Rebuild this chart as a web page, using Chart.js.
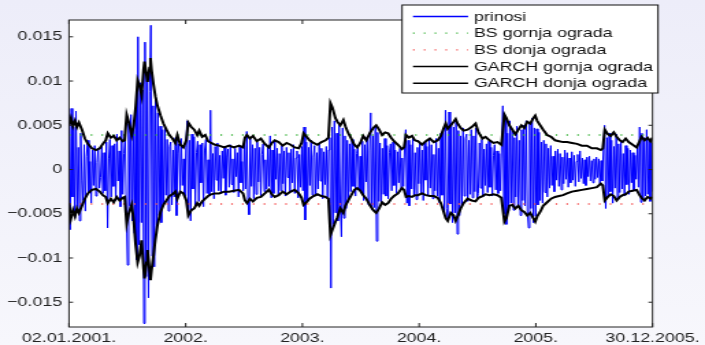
<!DOCTYPE html>
<html>
<head>
<meta charset="utf-8">
<script src="https://cdn.jsdelivr.net/npm/chart.js@4.4.1/dist/chart.umd.min.js"></script>
<style>
  html, body { margin: 0; padding: 0; width: 705px; height: 345px; overflow: hidden;
    background: linear-gradient(#ededf9, #f7f7fc); }
  /* the original figure was stretched sideways, so draw narrow and widen */
  #wrap { width: 515px; height: 345px; transform: scaleX(1.3689); transform-origin: 0 0; }
  canvas { display: block; }
</style>
</head>
<body>
<div id="wrap"><canvas id="chart" width="515" height="345"></canvas></div>
<script>
// axis ticks (x in years from 02.01.2001.)
const xTickPos = [0, 1, 2, 3, 4, 5];
const xTickLabels = ['02.01.2001.', '2002.', '2003.', '2004.', '2005.', '30.12.2005.'];
const yTickPos = [-0.015, -0.01, -0.005, 0, 0.005, 0.01, 0.015];
const yTickLabels = ['\u22120.015', '\u22120.01', '\u22120.005', '0', '0.005', '0.01', '0.015'];

// daily returns (prinosi), evenly spaced over the 5 years
const prinosi = [
  0.0062, -0.0068, 0.0069, -0.0031, 0.0048, -0.0055, 0.0066, -0.0042, 0.0025, -0.0058,
  0.0041, -0.0012, -0.0035, 0.0028, -0.0047, 0.0015, 0.0033, -0.0026, 0.0009, -0.0038,
  0.0022, -0.0018, 0.0027, -0.0030, 0.0008, 0.0024, -0.0021, -0.0009, 0.0026, -0.0027,
  0.0019, -0.0024, 0.0031, -0.0066, 0.0012, 0.0034, -0.0031, 0.0027, -0.0019, 0.0029,
  -0.0035, 0.0040, -0.0013, 0.0021, -0.0042, 0.0044, -0.0028, 0.0018, 0.0038, -0.0046,
  -0.0108, 0.0052, -0.0041, 0.0062, -0.0058, 0.0046, -0.0072, 0.0070, -0.0102, 0.0150,
  -0.0085, 0.0098, -0.0060, 0.0090, -0.0174, 0.0144, -0.0121, 0.0105, -0.0145, 0.0088,
  0.0163, -0.0098, 0.0072, -0.0110, 0.0081, -0.0068, 0.0064, -0.0052, 0.0049, -0.0060,
  0.0045, -0.0038, 0.0050, -0.0029, 0.0034, -0.0047, 0.0026, 0.0031, -0.0040, 0.0022,
  -0.0031, 0.0036, -0.0052, 0.0018, 0.0029, -0.0024, 0.0035, -0.0018, 0.0012, -0.0030,
  0.0027, 0.0055, -0.0048, 0.0033, -0.0058, 0.0040, -0.0022, 0.0037, -0.0041, 0.0019,
  0.0032, -0.0036, 0.0028, -0.0015, 0.0030, -0.0042, 0.0022, 0.0034, -0.0027, 0.0011,
  -0.0030, 0.0067, -0.0025, 0.0018, -0.0033, 0.0026, -0.0012, 0.0030, -0.0024, 0.0016,
  -0.0027, 0.0021, -0.0010, 0.0025, -0.0029, 0.0014, 0.0023, -0.0020, 0.0028, -0.0017,
  0.0012, -0.0026, 0.0024, -0.0008, 0.0019, -0.0031, 0.0026, -0.0015, 0.0009, -0.0024,
  0.0030, -0.0022, 0.0043, -0.0036, -0.0051, 0.0035, -0.0019, 0.0028, -0.0033, 0.0024,
  -0.0028, 0.0031, -0.0014, 0.0025, -0.0030, 0.0017, 0.0029, -0.0025, 0.0011, -0.0022,
  0.0026, -0.0019, 0.0038, -0.0032, 0.0022, -0.0027, 0.0033, -0.0011, 0.0024, -0.0029,
  0.0018, -0.0024, 0.0027, -0.0016, 0.0021, -0.0030, 0.0025, -0.0009, 0.0019, -0.0026,
  0.0023, -0.0015, 0.0028, -0.0027, 0.0013, 0.0021, -0.0032, 0.0017, -0.0020, 0.0026,
  -0.0024, 0.0048, -0.0057, 0.0031, -0.0036, 0.0025, -0.0018, 0.0033, -0.0029, 0.0014,
  0.0027, -0.0030, 0.0019, -0.0022, 0.0030, -0.0013, 0.0024, -0.0033, 0.0020, -0.0017,
  0.0026, -0.0031, 0.0022, 0.0036, -0.0134, 0.0048, -0.0062, 0.0055, -0.0049, 0.0041,
  -0.0058, 0.0052, -0.0041, -0.0076, 0.0047, -0.0055, 0.0038, -0.0044, 0.0033, -0.0037,
  0.0029, -0.0025, 0.0034, -0.0019, 0.0023, -0.0030, 0.0018, 0.0027, -0.0022, 0.0015,
  -0.0026, 0.0032, -0.0035, 0.0028, -0.0014, 0.0037, -0.0040, 0.0021, 0.0064, -0.0045,
  0.0038, -0.0043, 0.0049, -0.0081, 0.0042, -0.0036, 0.0030, -0.0039, 0.0024, -0.0028,
  0.0035, -0.0030, 0.0027, -0.0033, 0.0019, 0.0029, -0.0024, 0.0031, -0.0018, 0.0022,
  -0.0027, 0.0020, -0.0015, 0.0024, -0.0022, 0.0013, -0.0019, 0.0026, 0.0045, -0.0038,
  0.0033, -0.0041, 0.0028, -0.0022, 0.0036, -0.0030, 0.0019, -0.0034, 0.0025, -0.0016,
  0.0030, -0.0027, 0.0022, -0.0035, 0.0031, -0.0012, 0.0026, -0.0029, 0.0034, -0.0021,
  0.0028, -0.0033, 0.0017, -0.0024, 0.0035, -0.0030, 0.0024, -0.0038, 0.0041, -0.0029,
  0.0046, -0.0051, 0.0067, -0.0044, -0.0058, 0.0065, -0.0039, 0.0052, -0.0060, 0.0048,
  -0.0049, 0.0056, -0.0073, 0.0044, -0.0052, 0.0038, -0.0041, 0.0047, -0.0030, 0.0035,
  0.0040, -0.0036, 0.0033, -0.0028, 0.0045, -0.0032, 0.0038, -0.0025, 0.0047, -0.0034,
  -0.0027, 0.0030, -0.0021, 0.0034, -0.0031, 0.0023, -0.0018, 0.0029, -0.0026, 0.0032,
  -0.0020, 0.0025, -0.0030, 0.0016, 0.0028, -0.0023, 0.0021, -0.0027, 0.0018, -0.0024,
  0.0030, 0.0072, -0.0050, 0.0058, -0.0062, 0.0041, -0.0047, 0.0055, -0.0038, 0.0044,
  -0.0046, 0.0036, -0.0031, 0.0049, -0.0042, 0.0033, -0.0052, 0.0045, -0.0035, 0.0050,
  -0.0041, 0.0055, -0.0048, -0.0066, 0.0052, -0.0044, 0.0058, -0.0060, 0.0047, -0.0053,
  0.0046, -0.0040, 0.0042, -0.0035, 0.0031, -0.0038, 0.0033, -0.0026, 0.0029, -0.0031,
  0.0024, -0.0021, 0.0027, -0.0018, 0.0015, -0.0025, 0.0021, -0.0012, 0.0023, -0.0019,
  0.0018, -0.0023, 0.0014, -0.0016, 0.0022, -0.0011, 0.0019, -0.0020, 0.0013, -0.0015,
  0.0020, -0.0012, 0.0016, -0.0019, 0.0009, 0.0017, -0.0014, 0.0021, -0.0010, 0.0013,
  -0.0016, 0.0011, -0.0018, 0.0014, -0.0008, 0.0015, -0.0013, 0.0010, -0.0015, 0.0012,
  -0.0011, 0.0014, -0.0009, 0.0012, -0.0016, 0.0010, -0.0013, 0.0024, 0.0050, -0.0044,
  0.0036, -0.0031, 0.0041, -0.0025, 0.0033, -0.0038, 0.0026, -0.0021, 0.0040, -0.0034,
  0.0029, -0.0026, 0.0033, -0.0022, 0.0018, -0.0030, 0.0027, -0.0017, 0.0024, -0.0028,
  0.0022, -0.0015, 0.0019, -0.0023, 0.0016, -0.0011, 0.0025, -0.0020, 0.0048, -0.0037,
  0.0041, -0.0033, 0.0036, -0.0030, 0.0045, -0.0028, 0.0034, -0.0036, 0.0030, -0.0025
];
const prinosiEnd = 5;

// Black-Scholes bands (constant)
const bsGornja = 0.0039;
const bsDonja = -0.0039;

// GARCH bands, sampled at these times (years)
const garchT = [
  0.000, 0.017, 0.034, 0.051, 0.068, 0.085, 0.111, 0.136, 0.162, 0.196,
  0.230, 0.264, 0.290, 0.315, 0.332, 0.358, 0.383, 0.409, 0.434, 0.460,
  0.477, 0.494, 0.511, 0.537, 0.554, 0.571, 0.588, 0.605, 0.622, 0.639,
  0.647, 0.664, 0.673, 0.690, 0.698, 0.707, 0.724, 0.741, 0.758, 0.784,
  0.809, 0.835, 0.860, 0.886, 0.911, 0.928, 0.954, 0.980, 1.005, 1.022,
  1.048, 1.073, 1.099, 1.116, 1.141, 1.167, 1.192, 1.218, 1.252, 1.286,
  1.329, 1.371, 1.414, 1.457, 1.491, 1.508, 1.525, 1.550, 1.576, 1.610,
  1.644, 1.678, 1.712, 1.738, 1.763, 1.797, 1.831, 1.865, 1.899, 1.934,
  1.968, 1.993, 2.010, 2.036, 2.061, 2.095, 2.129, 2.163, 2.198, 2.223,
  2.240, 2.257, 2.283, 2.300, 2.325, 2.351, 2.368, 2.393, 2.419, 2.445,
  2.470, 2.496, 2.521, 2.547, 2.581, 2.607, 2.632, 2.658, 2.683, 2.709,
  2.734, 2.760, 2.785, 2.819, 2.853, 2.871, 2.888, 2.913, 2.939, 2.964,
  2.990, 3.024, 3.058, 3.092, 3.126, 3.160, 3.186, 3.211, 3.228, 3.245,
  3.271, 3.296, 3.313, 3.330, 3.356, 3.381, 3.415, 3.450, 3.484, 3.509,
  3.543, 3.569, 3.603, 3.637, 3.671, 3.705, 3.731, 3.748, 3.773, 3.799,
  3.824, 3.850, 3.876, 3.901, 3.927, 3.952, 3.978, 3.995, 4.012, 4.037,
  4.063, 4.097, 4.131, 4.165, 4.199, 4.233, 4.268, 4.310, 4.353, 4.395,
  4.438, 4.480, 4.523, 4.557, 4.574, 4.591, 4.617, 4.642, 4.668, 4.693,
  4.719, 4.744, 4.770, 4.796, 4.830, 4.864, 4.889, 4.906, 4.932, 4.957,
  4.983, 5.000
];
const garchGornja = [
  0.0050, 0.0058, 0.0049, 0.0055, 0.0048, 0.0053, 0.0045, 0.0035, 0.0029, 0.0024,
  0.0022, 0.0024, 0.0029, 0.0033, 0.0041, 0.0036, 0.0038, 0.0033, 0.0036, 0.0032,
  0.0033, 0.0062, 0.0054, 0.0039, 0.0050, 0.0070, 0.0101, 0.0095, 0.0084, 0.0113,
  0.0122, 0.0107, 0.0099, 0.0115, 0.0126, 0.0113, 0.0096, 0.0082, 0.0072, 0.0061,
  0.0052, 0.0045, 0.0039, 0.0035, 0.0030, 0.0039, 0.0028, 0.0025, 0.0033, 0.0053,
  0.0048, 0.0045, 0.0039, 0.0044, 0.0037, 0.0039, 0.0032, 0.0030, 0.0028, 0.0027,
  0.0025, 0.0027, 0.0025, 0.0027, 0.0025, 0.0036, 0.0039, 0.0035, 0.0038, 0.0032,
  0.0035, 0.0029, 0.0025, 0.0030, 0.0033, 0.0031, 0.0027, 0.0030, 0.0028, 0.0025,
  0.0024, 0.0030, 0.0041, 0.0037, 0.0033, 0.0030, 0.0028, 0.0031, 0.0033, 0.0036,
  0.0075, 0.0070, 0.0058, 0.0054, 0.0050, 0.0056, 0.0049, 0.0041, 0.0035, 0.0028,
  0.0025, 0.0030, 0.0038, 0.0033, 0.0042, 0.0047, 0.0050, 0.0045, 0.0039, 0.0042,
  0.0041, 0.0036, 0.0032, 0.0028, 0.0023, 0.0025, 0.0039, 0.0036, 0.0038, 0.0033,
  0.0032, 0.0028, 0.0032, 0.0035, 0.0031, 0.0033, 0.0038, 0.0047, 0.0052, 0.0046,
  0.0050, 0.0054, 0.0057, 0.0052, 0.0047, 0.0044, 0.0045, 0.0048, 0.0052, 0.0042,
  0.0035, 0.0037, 0.0033, 0.0030, 0.0031, 0.0028, 0.0062, 0.0058, 0.0050, 0.0045,
  0.0040, 0.0045, 0.0050, 0.0047, 0.0054, 0.0052, 0.0058, 0.0061, 0.0055, 0.0050,
  0.0045, 0.0039, 0.0037, 0.0033, 0.0032, 0.0031, 0.0031, 0.0030, 0.0029, 0.0027,
  0.0027, 0.0024, 0.0024, 0.0022, 0.0024, 0.0045, 0.0040, 0.0038, 0.0042, 0.0037,
  0.0033, 0.0031, 0.0035, 0.0031, 0.0028, 0.0025, 0.0032, 0.0037, 0.0033, 0.0036,
  0.0032, 0.0036
];
const garchDonja = [
  -0.0038, -0.0055, -0.0046, -0.0053, -0.0044, -0.0049, -0.0041, -0.0033, -0.0027, -0.0023,
  -0.0022, -0.0025, -0.0029, -0.0031, -0.0038, -0.0033, -0.0037, -0.0031, -0.0035, -0.0032,
  -0.0031, -0.0061, -0.0050, -0.0040, -0.0057, -0.0085, -0.0105, -0.0097, -0.0080, -0.0112,
  -0.0123, -0.0105, -0.0091, -0.0114, -0.0125, -0.0114, -0.0097, -0.0078, -0.0063, -0.0048,
  -0.0040, -0.0035, -0.0030, -0.0028, -0.0025, -0.0033, -0.0025, -0.0027, -0.0035, -0.0052,
  -0.0046, -0.0044, -0.0038, -0.0041, -0.0036, -0.0033, -0.0030, -0.0028, -0.0027, -0.0027,
  -0.0025, -0.0025, -0.0024, -0.0023, -0.0027, -0.0035, -0.0038, -0.0033, -0.0036, -0.0032,
  -0.0031, -0.0027, -0.0023, -0.0028, -0.0031, -0.0029, -0.0025, -0.0028, -0.0025, -0.0023,
  -0.0027, -0.0032, -0.0040, -0.0037, -0.0033, -0.0030, -0.0028, -0.0030, -0.0031, -0.0033,
  -0.0074, -0.0068, -0.0059, -0.0054, -0.0044, -0.0049, -0.0041, -0.0035, -0.0029, -0.0023,
  -0.0021, -0.0024, -0.0029, -0.0033, -0.0041, -0.0046, -0.0049, -0.0044, -0.0037, -0.0040,
  -0.0038, -0.0033, -0.0030, -0.0027, -0.0021, -0.0023, -0.0031, -0.0030, -0.0031, -0.0029,
  -0.0029, -0.0027, -0.0029, -0.0030, -0.0030, -0.0032, -0.0038, -0.0048, -0.0055, -0.0058,
  -0.0049, -0.0052, -0.0058, -0.0053, -0.0044, -0.0038, -0.0033, -0.0035, -0.0036, -0.0032,
  -0.0030, -0.0028, -0.0029, -0.0028, -0.0029, -0.0032, -0.0059, -0.0055, -0.0041, -0.0040,
  -0.0044, -0.0041, -0.0046, -0.0048, -0.0052, -0.0049, -0.0055, -0.0059, -0.0053, -0.0048,
  -0.0041, -0.0037, -0.0033, -0.0031, -0.0030, -0.0029, -0.0027, -0.0025, -0.0024, -0.0023,
  -0.0022, -0.0021, -0.0020, -0.0016, -0.0018, -0.0035, -0.0031, -0.0028, -0.0030, -0.0035,
  -0.0031, -0.0029, -0.0028, -0.0025, -0.0024, -0.0023, -0.0029, -0.0032, -0.0035, -0.0031,
  -0.0033, -0.0031
];

Chart.defaults.font.family = "'Liberation Sans', Arial, sans-serif";
Chart.defaults.font.size = 13;
Chart.defaults.color = '#222';

const frame = {
  id: 'frame',
  beforeDraw(chart) {
    const a = chart.chartArea, ctx = chart.ctx;
    ctx.save();
    ctx.fillStyle = '#fff';
    ctx.fillRect(a.left, a.top, a.right - a.left, a.bottom - a.top);
    ctx.restore();
  },
  afterDatasetsDraw(chart) {
    const a = chart.chartArea, ctx = chart.ctx;
    const xs = chart.scales.x, ys = chart.scales.y;
    ctx.save();
    ctx.strokeStyle = '#222';
    ctx.lineWidth = 1;
    ctx.strokeRect(a.left, a.top, a.right - a.left, a.bottom - a.top);
    ctx.beginPath();
    xTickPos.forEach(v => {
      const px = xs.getPixelForValue(v);
      ctx.moveTo(px, a.bottom); ctx.lineTo(px, a.bottom - 4);
      ctx.moveTo(px, a.top); ctx.lineTo(px, a.top + 4);
    });
    yTickPos.forEach(v => {
      const py = ys.getPixelForValue(v);
      ctx.moveTo(a.left, py); ctx.lineTo(a.left + 3, py);
      ctx.moveTo(a.right, py); ctx.lineTo(a.right - 3, py);
    });
    ctx.stroke();
    ctx.restore();
  },
  afterDraw(chart) {
    // legend box in the upper right, over the axes border
    const ctx = chart.ctx;
    const box = { x: 293.7, y: 5, w: 187, h: 88 };
    ctx.save();
    ctx.fillStyle = '#fff';
    ctx.fillRect(box.x, box.y, box.w, box.h);
    ctx.strokeStyle = '#111';
    ctx.lineWidth = 1;
    ctx.strokeRect(box.x, box.y, box.w, box.h);
    ctx.font = "13px 'Liberation Sans', Arial, sans-serif";
    ctx.textBaseline = 'middle';
    chart.data.datasets.forEach((ds, i) => {
      const y = 16.5 + i * 16.7;
      ctx.beginPath();
      ctx.strokeStyle = ds.borderColor;
      ctx.lineWidth = ds.legendWidth;
      ctx.setLineDash(ds.borderDash || []);
      ctx.moveTo(301.7, y);
      ctx.lineTo(341.9, y);
      ctx.stroke();
      ctx.setLineDash([]);
      ctx.fillStyle = '#111';
      ctx.fillText(ds.label, 346.2, y + 0.5);
    });
    ctx.restore();
  }
};

const line = (arrX, arrY) => arrX.map((x, i) => ({ x: x, y: arrY[i] }));

new Chart(document.getElementById('chart'), {
  type: 'line',
  data: {
    datasets: [
      {
        label: 'prinosi',
        data: prinosi.map((v, i) => ({ x: prinosiEnd * i / (prinosi.length - 1), y: v })),
        borderColor: 'rgb(0,0,255)', borderWidth: 1, legendWidth: 1.5, order: 5
      },
      {
        label: 'BS gornja ograda',
        data: line([0, 5], [bsGornja, bsGornja]),
        borderColor: 'rgb(60,180,60)', borderWidth: 1.3, legendWidth: 1.3,
        borderDash: [1.2, 6.7], order: 2
      },
      {
        label: 'BS donja ograda',
        data: line([0, 5], [bsDonja, bsDonja]),
        borderColor: 'rgb(245,80,80)', borderWidth: 1.3, legendWidth: 1.3,
        borderDash: [1.2, 6.7], order: 2
      },
      {
        label: 'GARCH gornja ograda',
        data: line(garchT, garchGornja),
        borderColor: '#000', borderWidth: 2, legendWidth: 1.5, order: 1
      },
      {
        label: 'GARCH donja ograda',
        data: line(garchT, garchDonja),
        borderColor: '#000', borderWidth: 2, legendWidth: 1.5, order: 1
      }
    ]
  },
  options: {
    responsive: false,
    animation: false,
    devicePixelRatio: 1,
    layout: { padding: { left: 0, right: 35.8, top: 20, bottom: 0 } },
    elements: { point: { radius: 0 }, line: { tension: 0 } },
    plugins: { legend: { display: false }, tooltip: { enabled: false } },
    scales: {
      x: {
        type: 'linear',
        min: 0,
        max: 5,
        grid: { display: false, drawTicks: false },
        border: { display: false },
        afterBuildTicks: s => { s.ticks = xTickPos.map(v => ({ value: v })); },
        afterFit: s => { s.height = 18; },
        ticks: {
          padding: 4,
          maxRotation: 0,
          autoSkip: false,
          color: '#222',
          callback: (v, i) => xTickLabels[i]
        }
      },
      y: {
        min: -0.0178,
        max: 0.0169,
        grid: { display: false, drawTicks: false },
        border: { display: false },
        afterBuildTicks: s => { s.ticks = yTickPos.map(v => ({ value: v })); },
        afterFit: s => { s.width = 50.4; },
        ticks: {
          padding: 5,
          color: '#222',
          callback: (v, i) => yTickLabels[i]
        }
      }
    }
  },
  plugins: [frame]
});
</script>
</body>
</html>
